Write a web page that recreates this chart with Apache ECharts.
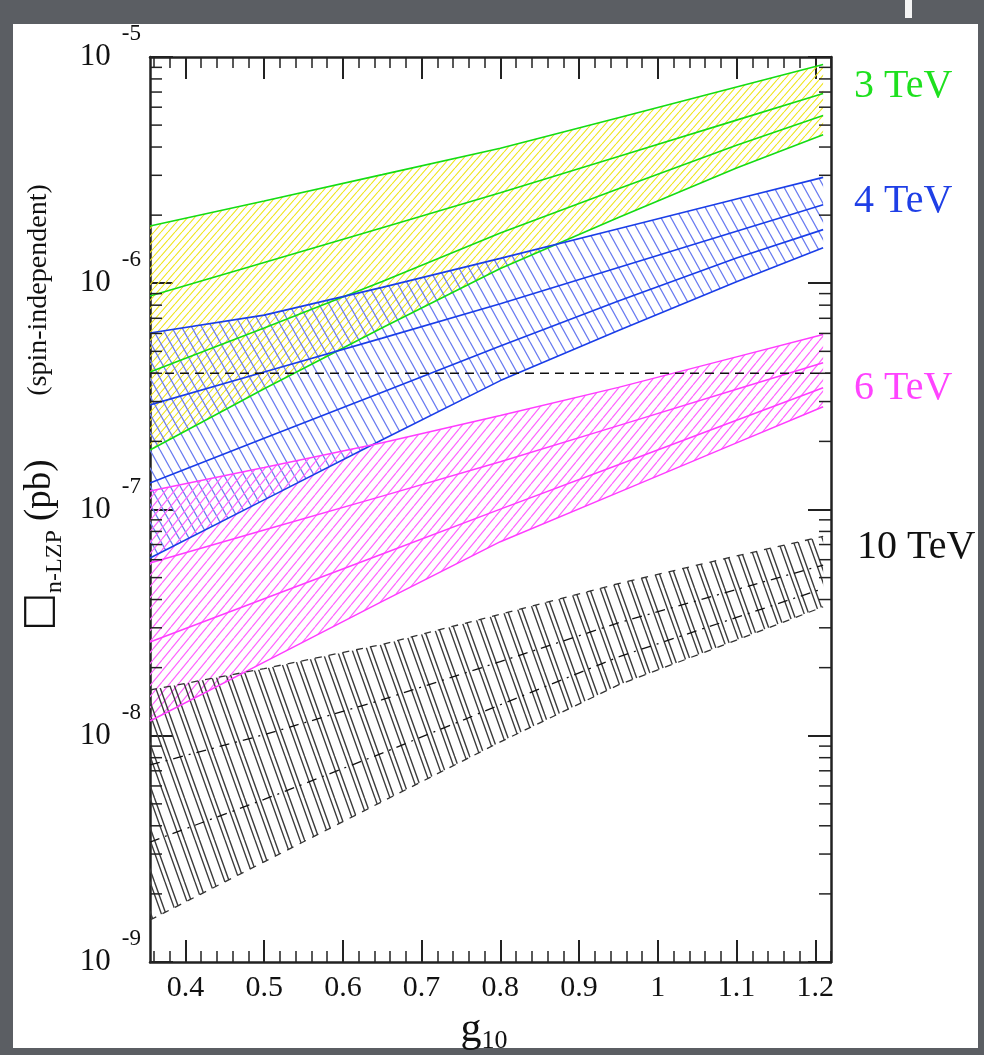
<!DOCTYPE html>
<html><head><meta charset="utf-8">
<script src="https://cdn.jsdelivr.net/npm/echarts@6/dist/echarts.min.js"></script>
<style>
html,body{margin:0;padding:0;width:984px;height:1055px;background:#5b5e63;overflow:hidden}
#panel{position:absolute;left:13px;top:24px;width:965px;height:1024px;background:#fff}
#chart{position:absolute;left:0;top:0;width:984px;height:1055px}
</style></head><body>
<div id="panel"></div><div id="chart"></div>
<script>
// ---------------- data ----------------
const g10 = [0.355, 0.5, 0.65, 0.8, 0.95, 1.1, 1.21];

const tev3_line1 = [1.79e-6, 2.31e-6, 3.02e-6, 3.95e-6, 5.39e-6, 7.37e-6, 9.27e-6];
const tev3_line2 = [8.78e-7, 1.236e-6, 1.76e-6, 2.51e-6, 3.63e-6, 5.26e-6, 6.90e-6];
const tev3_line3 = [4.05e-7, 6.34e-7, 1.019e-6, 1.666e-6, 2.617e-6, 4.07e-6, 5.51e-6];
const tev3_line4 = [1.832e-7, 3.42e-7, 6.36e-7, 1.162e-6, 1.954e-6, 3.23e-6, 4.535e-6];

const tev4_line1 = [6.03e-7, 7.23e-7, 9.59e-7, 1.288e-6, 1.741e-6, 2.355e-6, 2.937e-6];
const tev4_line2 = [2.90e-7, 4.05e-7, 5.72e-7, 8.11e-7, 1.173e-6, 1.697e-6, 2.225e-6];
const tev4_line3 = [1.31e-7, 2.064e-7, 3.30e-7, 5.275e-7, 8.34e-7, 1.293e-6, 1.726e-6];
const tev4_line4 = [6.10e-8, 1.103e-7, 2.033e-7, 3.713e-7, 6.176e-7, 1.016e-6, 1.436e-6];

const tev6_line1 = [1.207e-7, 1.532e-7, 1.973e-7, 2.603e-7, 3.465e-7, 4.726e-7, 5.936e-7];
const tev6_line2 = [5.80e-8, 8.11e-8, 1.146e-7, 1.625e-7, 2.348e-7, 3.398e-7, 4.455e-7];
const tev6_line3 = [2.596e-8, 4.034e-8, 6.358e-8, 1.004e-7, 1.578e-7, 2.479e-7, 3.453e-7];
const tev6_line4 = [1.162e-8, 2.114e-8, 3.925e-8, 7.206e-8, 1.191e-7, 1.970e-7, 2.847e-7];

const tev10_top    = [1.593e-8, 1.98e-8, 2.534e-8, 3.445e-8, 4.704e-8, 6.236e-8, 7.605e-8];
const tev10_mid1   = [7.43e-9, 1.011e-8, 1.443e-8, 2.127e-8, 3.156e-8, 4.43e-8, 5.68e-8];
const tev10_mid2   = [3.39e-9, 5.23e-9, 8.38e-9, 1.371e-8, 2.231e-8, 3.332e-8, 4.471e-8];
const tev10_bottom = [1.533e-9, 2.772e-9, 5.117e-9, 9.394e-9, 1.677e-8, 2.649e-8, 3.715e-8];

const limitX = [0.355, 1.22];
const limitY = [4.0e-7, 4.0e-7];

const massLabels = ['3 TeV', '4 TeV', '6 TeV', '10 TeV'];

// axis ticks / labels
const X_MIN = 0.355, X_MAX = 1.22;
const xMajorTicks = [0.4, 0.5, 0.6, 0.7, 0.8, 0.9, 1.0, 1.1, 1.2];
const xMajorLabels = ['0.4', '0.5', '0.6', '0.7', '0.8', '0.9', '1', '1.1', '1.2'];
const xMinorTicks = [0.36, 0.38, 0.42, 0.44, 0.46, 0.48, 0.52, 0.54, 0.56, 0.58, 0.62, 0.64, 0.66, 0.68,
  0.72, 0.74, 0.76, 0.78, 0.82, 0.84, 0.86, 0.88, 0.92, 0.94, 0.96, 0.98, 1.02, 1.04, 1.06, 1.08,
  1.12, 1.14, 1.16, 1.18, 1.22];
const Y_MIN = 1e-9, Y_MAX = 1e-5;
const yDecades = [1e-9, 1e-8, 1e-7, 1e-6, 1e-5];
const yDecadeExps = ['-9', '-8', '-7', '-6', '-5'];
const yMinorMantissas = [2, 3, 4, 5, 6, 7, 8, 9];

// ---------------- styling helpers ----------------
const SERIF = '"Liberation Serif","Times New Roman","DejaVu Serif",serif';

function hatch(w, h, color, dir, lw, offsets) {
  const c = document.createElement('canvas');
  c.width = w; c.height = h;
  const ctx = c.getContext('2d');
  ctx.strokeStyle = color; ctx.lineWidth = lw;
  ctx.beginPath();
  (offsets || [0]).forEach(function (o) {
    for (let k = -1; k <= 1; k++) {
      const x0 = k * w + o;
      if (dir === '/') { ctx.moveTo(x0, h); ctx.lineTo(x0 + w, 0); }
      else { ctx.moveTo(x0, 0); ctx.lineTo(x0 + w, h); }
    }
  });
  ctx.stroke();
  return c;
}
const patYellow = hatch(7, 8, '#efe41a', '/', 1.1);
const patBlue = hatch(10, 18, '#6a7cf0', '\\', 1.3);
const patMagenta = hatch(9, 11, '#ff66ff', '/', 1.2);
const patBlack = hatch(15, 42, '#3c3c3c', '\\', 1.4, [0, 4.5]);

function pts(arr) { return arr.map(function (v, i) { return [g10[i], v]; }); }

function band(upper, lower, pattern) {
  return {
    type: 'custom', coordinateSystem: 'cartesian2d', xAxisIndex: 0, yAxisIndex: 0,
    data: [[g10[0], upper[0]]], clip: true, silent: true, z: 1,
    renderItem: function (params, api) {
      const p = [];
      for (let i = 0; i < g10.length; i++) p.push(api.coord([g10[i], upper[i]]));
      for (let i = g10.length - 1; i >= 0; i--) p.push(api.coord([g10[i], lower[i]]));
      return { type: 'polygon', shape: { points: p }, style: { fill: { image: pattern, repeat: 'repeat' }, stroke: null } };
    }
  };
}
function line(arr, color, width, type) {
  return {
    type: 'line', data: pts(arr), xAxisIndex: 0, yAxisIndex: 0, showSymbol: false, symbol: 'none',
    silent: true, z: 3, lineStyle: { color: color, width: width, type: type || 'solid' }
  };
}

const GREEN = '#14dc14', BLUE = '#1a3ee8', MAGENTA = '#ff3cff';

const yMinorTicks = [];
yDecades.slice(0, 4).forEach(function (d) { yMinorMantissas.forEach(function (m) { yMinorTicks.push([X_MIN, m * d]); }); });

const minorTickSeries = {
  type: 'custom', coordinateSystem: 'cartesian2d', xAxisIndex: 0, yAxisIndex: 0,
  data: yMinorTicks, clip: false, silent: true, z: 5,
  renderItem: function (params, api) {
    const cs = params.coordSys;
    const py = api.coord([api.value(0), api.value(1)])[1];
    const st = { stroke: '#222', lineWidth: 1.5 };
    return {
      type: 'group', children: [
        { type: 'line', shape: { x1: cs.x, y1: py, x2: cs.x + 12, y2: py }, style: st },
        { type: 'line', shape: { x1: cs.x + cs.width - 12, y1: py, x2: cs.x + cs.width, y2: py }, style: st }
      ]
    };
  }
};

const axisLine = { show: true, onZero: false, lineStyle: { color: '#222', width: 2.5 } };
function xAx(pos, major) {
  return {
    type: 'value', min: X_MIN, max: X_MAX, position: pos,
    axisLine: major ? axisLine : { show: false },
    axisTick: { show: true, inside: true, length: major ? 22 : 11, customValues: major ? xMajorTicks : xMinorTicks,
      lineStyle: { color: '#222', width: major ? 2 : 1.5 } },
    axisLabel: (major && pos === 'bottom') ? {
      customValues: xMajorTicks, margin: 11, fontFamily: SERIF, fontSize: 30, color: '#111',
      formatter: function (v) {
        for (let i = 0; i < xMajorTicks.length; i++) if (Math.abs(xMajorTicks[i] - v) < 1e-6) return xMajorLabels[i];
        return '';
      }
    } : { show: false },
    splitLine: { show: false }
  };
}
function yAx(pos) {
  return {
    type: 'log', logBase: 10, min: Y_MIN, max: Y_MAX, position: pos,
    axisLine: axisLine,
    axisTick: { show: true, inside: true, length: 23, lineStyle: { color: '#222', width: 2 } },
    minorTick: { show: false },
    axisLabel: pos === 'left' ? {
      margin: 9, color: '#111',
      formatter: function (v) {
        let best = 0;
        for (let i = 0; i < yDecades.length; i++) if (Math.abs(Math.log(yDecades[i] / v)) < Math.abs(Math.log(yDecades[best] / v))) best = i;
        return '{b|10}{s|' + yDecadeExps[best] + '}';
      },
      rich: {
        b: { fontFamily: SERIF, fontSize: 31, color: '#111' },
        s: { fontFamily: SERIF, fontSize: 23, color: '#111', padding: [0, 0, 46, 11] }
      }
    } : { show: false },
    splitLine: { show: false }
  };
}

const chart = echarts.init(document.getElementById('chart'), null, { renderer: 'canvas' });
chart.setOption({
  animation: false,
  backgroundColor: 'transparent',
  grid: { left: 150, right: 153, top: 57, bottom: 93, containLabel: false },
  xAxis: [xAx('bottom', true), xAx('bottom', false), xAx('top', true), xAx('top', false)],
  yAxis: [yAx('left'), yAx('right')],
  series: [
    band(tev3_line1, tev3_line4, patYellow),
    band(tev4_line1, tev4_line4, patBlue),
    band(tev6_line1, tev6_line4, patMagenta),
    band(tev10_top, tev10_bottom, patBlack),
    line(tev3_line1, GREEN, 1.6), line(tev3_line2, GREEN, 1.6), line(tev3_line3, GREEN, 1.6), line(tev3_line4, GREEN, 1.6),
    line(tev4_line1, BLUE, 1.6), line(tev4_line2, BLUE, 1.6), line(tev4_line3, BLUE, 1.6), line(tev4_line4, BLUE, 1.6),
    line(tev6_line1, MAGENTA, 1.5), line(tev6_line2, MAGENTA, 1.5), line(tev6_line3, MAGENTA, 1.5), line(tev6_line4, MAGENTA, 1.5),
    line(tev10_top, '#333', 1.3, [7, 7]), line(tev10_bottom, '#333', 1.3, [7, 7]),
    line(tev10_mid1, '#111', 1.3, [10, 6, 2, 6]), line(tev10_mid2, '#111', 1.3, [10, 6, 2, 6]),
    { type: 'line', data: [[limitX[0], limitY[0]], [limitX[1], limitY[1]]], xAxisIndex: 0, yAxisIndex: 0,
      showSymbol: false, symbol: 'none', silent: true, z: 4, lineStyle: { color: '#111', width: 1.4, type: [9, 6] } },
    minorTickSeries
  ],
  graphic: [
    { type: 'rect', x: 905, y: 0, shape: { x: 0, y: 0, width: 7, height: 18 }, style: { fill: '#f4f4f4' }, silent: true },
    { type: 'text', x: 854, y: 86, silent: true, style: { text: massLabels[0], font: '40px ' + SERIF, fill: '#1ee01e', align: 'left', verticalAlign: 'middle', textAlign: 'left', textVerticalAlign: 'middle' } },
    { type: 'text', x: 854, y: 201, silent: true, style: { text: massLabels[1], font: '40px ' + SERIF, fill: '#1f3fe6', align: 'left', verticalAlign: 'middle', textAlign: 'left', textVerticalAlign: 'middle' } },
    { type: 'text', x: 854, y: 388, silent: true, style: { text: massLabels[2], font: '40px ' + SERIF, fill: '#ff44ff', align: 'left', verticalAlign: 'middle', textAlign: 'left', textVerticalAlign: 'middle' } },
    { type: 'text', x: 857, y: 547, silent: true, style: { text: massLabels[3], font: '40px ' + SERIF, fill: '#111', align: 'left', verticalAlign: 'middle', textAlign: 'left', textVerticalAlign: 'middle' } },
    { type: 'text', x: 40, y: 545, rotation: Math.PI / 2, silent: true,
      style: { text: '{bx|\u25A1}{sub|n-LZP}{m| (pb)}', align: 'center', verticalAlign: 'middle', textAlign: 'center', textVerticalAlign: 'middle',
        rich: {
          bx: { fontFamily: '"DejaVu Sans"', fontSize: 40, fill: '#111' },
          m: { fontFamily: SERIF, fontSize: 37, fill: '#111' },
          sub: { fontFamily: SERIF, fontSize: 24, fill: '#111', padding: [30, 0, 0, 0] }
        } } },
    { type: 'text', x: 39, y: 290, rotation: Math.PI / 2, silent: true,
      style: { text: '(spin-independent)', font: '28px ' + SERIF, fill: '#111', align: 'center', verticalAlign: 'middle', textAlign: 'center', textVerticalAlign: 'middle' } },
    { type: 'text', x: 484, y: 1030, silent: true,
      style: { text: '{g|g}{s|10}', align: 'center', verticalAlign: 'middle', textAlign: 'center', textVerticalAlign: 'middle',
        rich: {
          g: { fontFamily: SERIF, fontSize: 42, fill: '#111' },
          s: { fontFamily: SERIF, fontSize: 26, fill: '#111', padding: [22, 0, 0, 0] }
        } } }
  ]
});
</script>
</body></html>
